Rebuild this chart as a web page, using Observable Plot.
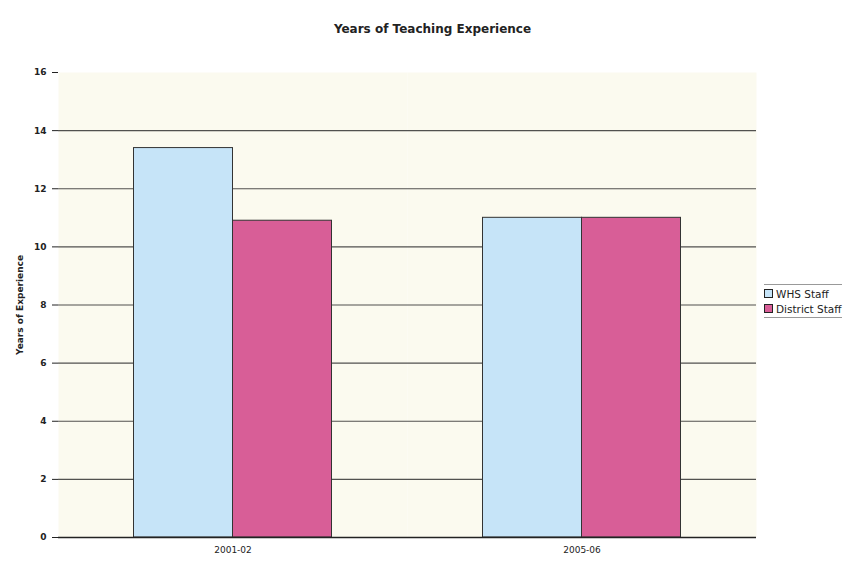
<!DOCTYPE html>
<html><head><meta charset="utf-8">
<script src="https://cdn.jsdelivr.net/npm/d3@7"></script>
<script src="https://cdn.jsdelivr.net/npm/@observablehq/plot@0.6"></script>
<style>
body{margin:0;background:#fff;font-family:"DejaVu Sans",sans-serif;}
#wrap{position:relative;width:865px;height:564px;}
#title{position:absolute;left:0;width:865px;top:22px;text-align:center;font-weight:bold;font-size:12px;color:#222;}
#chart{position:absolute;left:0;top:60px;}
#legend{position:absolute;left:764px;top:284px;font-size:10.5px;color:#222;border-top:1px solid #999;border-bottom:1px solid #999;padding:1px 0;white-space:nowrap;}
#legend div{display:flex;align-items:center;height:15px;}
#legend span.sw{display:inline-block;width:7px;height:7px;border:1px solid #222;margin-right:3px;}
</style></head>
<body><div id="wrap"><div id="title">Years of Teaching Experience</div><div id="chart"></div><div id="legend"></div></div>
<script>
const categories = ["2001-02", "2005-06"];
const seriesNames = ["WHS Staff", "District Staff"];
const whsValues = [13.4, 11.0];
const districtValues = [10.9, 11.0];
const yTicks = [0, 2, 4, 6, 8, 10, 12, 14, 16];
const colors = ["#c6e4f8", "#d85e97"];

const data = [];
categories.forEach((c, i) => {
  data.push({cat: c, series: seriesNames[0], value: whsValues[i]});
  data.push({cat: c, series: seriesNames[1], value: districtValues[i]});
});

const chart = Plot.plot({
  width: 760, height: 504,
  marginLeft: 57.5, marginRight: 3, marginTop: 12, marginBottom: 27,
  style: {fontFamily: "DejaVu Sans, sans-serif", fontSize: "9px", color: "#222", background: "transparent"},
  fx: {domain: categories, padding: 0, label: null, axis: "bottom", tickSize: 0},
  x: {domain: seriesNames, paddingInner: 0, paddingOuter: 0.75, axis: null},
  y: {domain: [0, 16], ticks: yTicks, label: "Years of Experience", labelAnchor: "center", labelArrow: "none"},
  color: {domain: seriesNames, range: colors},
  marks: [
    Plot.frame({fill: "#fbfaef", stroke: null}),
    Plot.ruleY(yTicks.filter(d => d > 0 && d < 16), {stroke: "#333", strokeWidth: 1.2, strokeOpacity: 0.85}),
    Plot.axisY({ticks: yTicks, tickSize: 6, tickPadding: 6, label: "Years of Experience", labelAnchor: "center", labelArrow: "none", labelOffset: 42, fontSize: 9, fontWeight: "bold"}),
    Plot.barY(data, {fx: "cat", x: "series", y: "value", fill: "series", stroke: "#333", strokeWidth: 1}),
    Plot.ruleY([0], {stroke: "#222", strokeWidth: 1.5})
  ]
});
document.getElementById("chart").appendChild(chart);

const leg = document.getElementById("legend");
seriesNames.forEach((s, i) => {
  const d = document.createElement("div");
  d.innerHTML = `<span class="sw" style="background:${colors[i]}"></span>${s}`;
  leg.appendChild(d);
});
</script></body></html>
